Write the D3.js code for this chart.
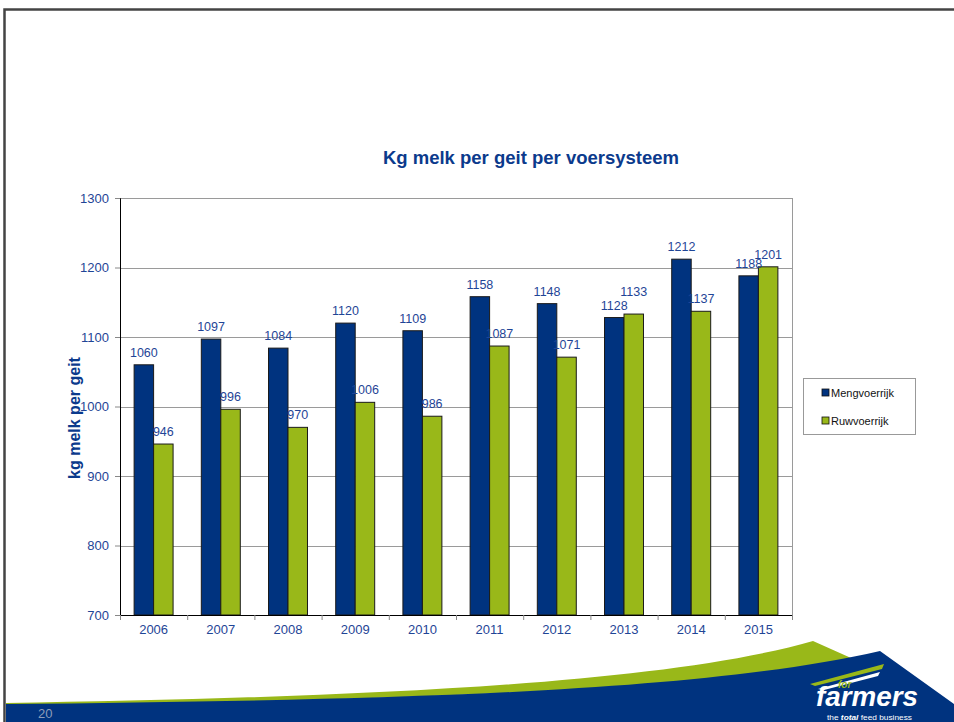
<!DOCTYPE html>
<meta charset="utf-8">
<html>
<head>
<style>
  body { margin: 0; background: #fff; }
  text { font-family: "Liberation Sans", Arial, sans-serif; }
</style>
<script src="https://d3js.org/d3.v7.min.js"></script>
</head>
<body>
<div id="chart"></div>
<script>
// data
var years = ["2006","2007","2008","2009","2010","2011","2012","2013","2014","2015"];
var series = ["Mengvoerrijk", "Ruwvoerrijk"];
var mengvoer = [1060, 1097, 1084, 1120, 1109, 1158, 1148, 1128, 1212, 1188];
var ruwvoer  = [946, 996, 970, 1006, 986, 1087, 1071, 1133, 1137, 1201];
var yTicks = [700, 800, 900, 1000, 1100, 1200, 1300];

var colors = {"Mengvoerrijk": "#00337f", "Ruwvoerrijk": "#99b819"};
var textBlue = "#1f4596";

var W = 954, H = 722;
var svg = d3.select("#chart").append("svg")
    .attr("width", W).attr("height", H);

// slide frame
svg.append("path")
    .attr("d", "M4.5,722 V9.5 H954")
    .attr("fill", "none").attr("stroke", "#444").attr("stroke-width", 2.5);

// plot area
var pLeft = 120, pRight = 792, pTop = 198, pBottom = 615;

var x = d3.scaleBand().domain(years).range([pLeft, pRight]).padding(0);
var xs = d3.scaleBand().domain(series)
    .range([x.bandwidth() * 0.21, x.bandwidth() * 0.79]).padding(0);
var y = d3.scaleLinear().domain([700, 1300]).range([pBottom, pTop]);

// gridlines
svg.append("g").selectAll("line").data(yTicks.slice(1)).join("line")
    .attr("x1", pLeft).attr("x2", pRight)
    .attr("y1", d => Math.round(y(d)) + 0.5).attr("y2", d => Math.round(y(d)) + 0.5)
    .attr("stroke", "#9a9a9a").attr("stroke-width", 1);
svg.append("line")
    .attr("x1", pRight + 0.5).attr("x2", pRight + 0.5)
    .attr("y1", pTop).attr("y2", pBottom)
    .attr("stroke", "#9a9a9a");

// bars
var rows = years.map((yr, i) => ({year: yr, vals: [
  {s: "Mengvoerrijk", v: mengvoer[i], other: ruwvoer[i]},
  {s: "Ruwvoerrijk", v: ruwvoer[i], other: mengvoer[i]}
]}));

var grp = svg.append("g").selectAll("g").data(rows).join("g")
    .attr("transform", d => "translate(" + x(d.year) + ",0)");

grp.selectAll("rect").data(d => d.vals).join("rect")
    .attr("x", d => xs(d.s))
    .attr("y", d => y(d.v))
    .attr("width", xs.bandwidth())
    .attr("height", d => y(700) - y(d.v))
    .attr("fill", d => colors[d.s])
    .attr("stroke", "#1a1a1a").attr("stroke-width", 1);

// labels; nudge the second one up when both labels sit at nearly the same height
grp.selectAll("text").data(d => d.vals).join("text")
    .attr("x", d => xs(d.s) + xs.bandwidth() / 2)
    .attr("y", d => {
      var ly = y(d.v) - 8;
      if (d.s === "Ruwvoerrijk" && Math.abs(y(d.v) - y(d.other)) < 6) ly -= 10;
      return ly;
    })
    .attr("text-anchor", "middle")
    .attr("font-size", "12.5px")
    .attr("fill", textBlue)
    .text(d => d.v);

// y axis
var yAxis = svg.append("g")
    .attr("transform", "translate(" + pLeft + ",0)")
    .call(d3.axisLeft(y).tickValues(yTicks).tickSize(5).tickPadding(6).tickFormat(d3.format("d")));
yAxis.select(".domain").attr("stroke", "#000");
yAxis.selectAll(".tick line").attr("stroke", "#888");
yAxis.selectAll("text").attr("font-size", "13px").attr("fill", textBlue)
    .attr("font-family", "Liberation Sans, Arial, sans-serif");

// x axis
var xAxis = svg.append("g")
    .attr("transform", "translate(0," + pBottom + ")")
    .call(d3.axisBottom(x).tickSize(0).tickPadding(10));
xAxis.select(".domain").attr("stroke", "#000").attr("d", "M" + pLeft + ",0.5H" + pRight);
xAxis.selectAll("text").attr("font-size", "13px").attr("fill", textBlue)
    .attr("font-family", "Liberation Sans, Arial, sans-serif");
svg.append("g").selectAll("line").data(years.concat(["end"])).join("line")
    .attr("x1", (d, i) => pLeft + i * x.step() + 0.5)
    .attr("x2", (d, i) => pLeft + i * x.step() + 0.5)
    .attr("y1", pBottom).attr("y2", pBottom + 5)
    .attr("stroke", "#888");

// title
svg.append("text")
    .attr("x", 531).attr("y", 164)
    .attr("text-anchor", "middle")
    .attr("font-size", "18.5px").attr("font-weight", "bold")
    .attr("fill", "#0b3a8c")
    .text("Kg melk per geit per voersysteem");

// y label
svg.append("text")
    .attr("transform", "translate(80,418) rotate(-90)")
    .attr("text-anchor", "middle")
    .attr("font-size", "16px").attr("font-weight", "bold")
    .attr("fill", "#0b3a8c")
    .text("kg melk per geit");

// legend
var lg = svg.append("g");
lg.append("rect").attr("x", 803.5).attr("y", 378.5).attr("width", 112).attr("height", 56)
    .attr("fill", "#fff").attr("stroke", "#999");
var li = lg.selectAll("g").data(series).join("g")
    .attr("transform", (d, i) => "translate(822," + (389 + i * 28) + ")");
li.append("rect").attr("width", 7).attr("height", 7)
    .attr("fill", d => colors[d]).attr("stroke", "#111").attr("stroke-width", 0.8);
li.append("text").attr("x", 9).attr("y", 7.5)
    .attr("font-size", "11px").attr("fill", "#111")
    .text(d => d);

// bottom decoration
svg.append("path")
    .attr("d", "M6,703 C300,698 650,688 813,641 L860,662 C700,690 400,700 6,706 Z")
    .attr("fill", "#99b819");
svg.append("path")
    .attr("d", "M6,704 C400,700 700,692 880,651 L954,704 L954,722 L6,722 Z")
    .attr("fill", "#00337f");

svg.append("text")
    .attr("x", 38).attr("y", 718)
    .attr("font-size", "13px").attr("fill", "#8c9cb8")
    .attr("font-family", "Open Sans, sans-serif")
    .text("20");

// logo
var logo = svg.append("g");
logo.append("path")
    .attr("d", "M810,684 L884,664 L882,669 L815,686 Z")
    .attr("fill", "#99b819");
logo.append("path")
    .attr("d", "M818,689 L880,672 L878,676 L824,690 Z")
    .attr("fill", "#fff");
logo.append("text")
    .attr("x", 838).attr("y", 688)
    .attr("font-size", "10px").attr("font-weight", "bold").attr("font-style", "italic")
    .attr("fill", "#99b819")
    .text("for");
logo.append("text")
    .attr("x", 816).attr("y", 706)
    .attr("font-size", "27px").attr("font-weight", "bold").attr("font-style", "italic")
    .attr("textLength", 102).attr("lengthAdjust", "spacingAndGlyphs")
    .attr("fill", "#fff")
    .text("farmers");
logo.append("text")
    .attr("x", 827).attr("y", 720)
    .attr("font-size", "7.5px")
    .attr("textLength", 85).attr("lengthAdjust", "spacingAndGlyphs")
    .attr("fill", "#fff")
    .html("the <tspan font-weight='bold' font-style='italic'>total</tspan> feed business");
</script>
</body>
</html>
